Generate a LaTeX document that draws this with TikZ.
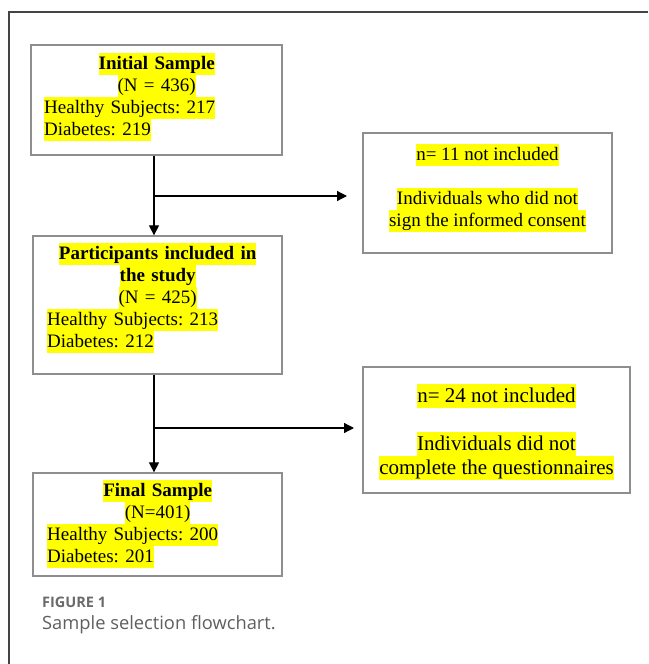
\documentclass[tikz,border=0pt]{standalone}
\usepackage{fontspec}
\setmainfont{Liberation Serif}
\newfontfamily\capfont{Open Sans}
\usetikzlibrary{arrows.meta}
\frenchspacing
\definecolor{hly}{HTML}{FFFF00}
\definecolor{boxgray}{HTML}{8E8E8E}
\definecolor{framegray}{HTML}{444444}
\definecolor{capgray}{HTML}{5F5F5F}
\definecolor{figgray}{HTML}{6A6A6A}
\newcommand\hlA[1]{{\setlength{\fboxsep}{0pt}\colorbox{hly}{\rule[-5.5pt]{0pt}{22pt}#1}}}
\newcommand\hlB[1]{{\setlength{\fboxsep}{0pt}\colorbox{hly}{\rule[-6pt]{0pt}{24pt}#1}}}
\newcommand\ctr[1]{\makebox[\hsize]{#1}}
\begin{document}
\begin{tikzpicture}[x=1pt,y=-1pt,
  boxst/.style={draw=boxgray, line width=1.3pt, rectangle, inner sep=0pt},
  txt/.style={inner sep=0pt, font=\fontsize{19}{22}\selectfont},
  txtb/.style={inner sep=0pt, font=\fontsize{21}{24}\selectfont},
  conn/.style={draw=black, line width=1.2pt, -{Triangle[length=10pt,width=10pt]}},
  framest/.style={draw=framegray, line width=1.2pt},
  capst/.style={inner sep=0pt, text=capgray, anchor=west}]
\useasboundingbox (0,0) rectangle (648,664);
% outer frame
\draw[framest] (648,12) -- (9,12) -- (9,664);
% boxes
\node[boxst, minimum width=251pt, minimum height=110pt] (b1) at (156.5,100) {};
\node[boxst, minimum width=249pt, minimum height=120pt] (b2) at (487.5,193) {};
\node[boxst, minimum width=249pt, minimum height=138pt] (b3) at (157.5,305) {};
\node[boxst, minimum width=267pt, minimum height=126pt] (b4) at (496.5,430) {};
\node[boxst, minimum width=249pt, minimum height=103pt] (b5) at (157.5,524.5) {};
% texts
\node[txt, text width=225pt, align=left, anchor=north west] (t1) at (44,53)
  {\ctr{\hlA{\textbf{Initial Sample}}}\\ \ctr{\hlA{(N = 436)}}\\ \hlA{Healthy Subjects: 217}\\ \hlA{Diabetes: 219}};
\node[txt, align=center, anchor=north] (t2) at (487.5,143.5)
  {\hlA{n= 11 not included}\\[22pt] \hlA{Individuals who did not}\\ \hlA{sign the informed consent}};
\node[txt, text width=221pt, align=left, anchor=north west] (t3) at (47,243)
  {\ctr{\hlA{\textbf{Participants included in}}}\\ \ctr{\hlA{\textbf{the study}}}\\ \ctr{\hlA{(N = 425)}}\\ \hlA{Healthy Subjects: 213}\\ \hlA{Diabetes: 212}};
\node[txtb, align=center, anchor=north] (t4) at (496.5,384)
  {\hlB{n= 24 not included}\\[24pt] \hlB{Individuals did not}\\ \hlB{complete the questionnaires}};
\node[txt, text width=221pt, align=left, anchor=north west] (t5) at (47,480)
  {\ctr{\hlA{\textbf{Final Sample}}}\\ \ctr{\hlA{(N=401)}}\\ \hlA{Healthy Subjects: 200}\\ \hlA{Diabetes: 201}};
% connectors
\coordinate (j1) at (154,196);
\coordinate (e1) at (347,196);
\coordinate (j2) at (154,428);
\coordinate (e2) at (354,428);
\draw[conn] (j1 |- b1.south) -- (j1 |- b3.north);
\draw[conn] (j1) -- (e1);
\draw[conn] (j2 |- b3.south) -- (j2 |- b5.north);
\draw[conn] (j2) -- (e2);
% caption
\node[capst, text=figgray, font=\capfont\bfseries\fontsize{14.5}{16}\selectfont] (cap1) at (42,602) {FIGURE 1};
\node[capst, font=\capfont\fontsize{18.3}{21}\selectfont] (cap2) at (42,625) {Sample selection flowchart.};
\end{tikzpicture}
\end{document}
